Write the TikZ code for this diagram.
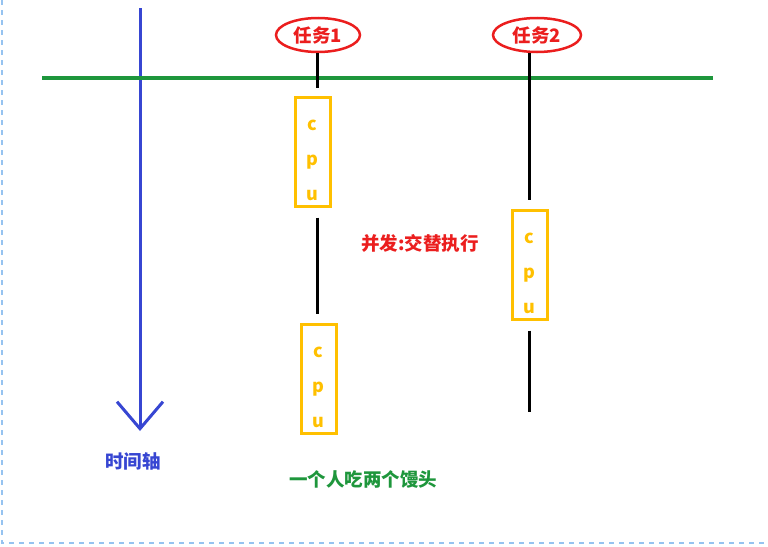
\documentclass[tikz,border=0pt]{standalone}
\usepackage{fontspec}
\newfontfamily\cjk{Noto Sans CJK SC}
\usetikzlibrary{shapes.geometric, arrows.meta}

\definecolor{axisblue}{RGB}{55,70,210}
\definecolor{linegreen}{RGB}{30,150,60}
\definecolor{taskred}{RGB}{235,30,30}
\definecolor{cpugold}{RGB}{255,192,0}
\definecolor{framblue}{RGB}{150,195,240}

\tikzset{
    task/.style={ellipse, draw=taskred, line width=2.5pt, minimum width=84pt, minimum height=34pt,
        inner sep=0pt, text=taskred, font=\cjk\bfseries\fontsize{18.5}{18.5}\selectfont},
    cpubox/.style={draw=cpugold, line width=3pt, minimum width=35pt, minimum height=109pt, inner sep=0pt},
    cputext/.style={text=cpugold, font=\cjk\bfseries\fontsize{18}{35}\selectfont, align=center, inner sep=0pt},
    run/.style={line width=3pt, black},
    note/.style={font=\cjk\bfseries\fontsize{18.5}{18.5}\selectfont}
}

\begin{document}
\begin{tikzpicture}[x=1pt, y=-1pt]
    \useasboundingbox (0,0) rectangle (768,546);

    % 1. 截图边框
    \draw[framblue, line width=1.2pt, dash pattern=on 5pt off 5pt] (2,0) -- (2,543) -- (768,543);

    % 2. 时间轴
    \coordinate (ttop) at (140,8);
    \coordinate (tend) at (140,431);
    \draw[axisblue, line width=3pt, -{Straight Barb[length=27pt, width=46pt, line width=3pt]}] (ttop) -- (tend);
    \node[note, text=axisblue] (tlabel) at (133,461) {时间轴};

    % 3. 绿色基准线
    \coordinate (gleft) at (42,78);
    \coordinate (gright) at (713,78);
    \draw[linegreen, line width=3.5pt] (gleft) -- (gright);

    % 4. 任务
    \node[task] (task1) at (318,35) {任务1};
    \node[task, minimum width=88pt] (task2) at (537,35) {任务2};

    % 5. cpu 时间片
    \node[cpubox] (cpuA) at (312.5,151.5) {};
    \node[cpubox] (cpuB) at (318.5,378.5) {};
    \node[cpubox] (cpuC) at (529.5,264.5) {};
    \foreach \b in {cpuA, cpuB, cpuC}
        \node[cputext] (\b text) at ([yshift=-9pt]\b.center) {c\\p\\u};

    % 6. 执行线
    \coordinate (t1x) at (317,0);
    \draw[run, shorten >=8pt] (t1x |- task1.south) -- (t1x |- cpuA.north);
    \draw[run, shorten <=10pt, shorten >=9pt] (t1x |- cpuA.south) -- (t1x |- cpuB.north);
    \draw[run, shorten >=9pt] (task2.south -| cpuC.north) -- (cpuC.north);
    \coordinate (end2) at (529.5,412);
    \draw[run, shorten <=10pt] (cpuC.south) -- (end2);

    % 7. 标注
    \node[note, text=taskred] (concur) at (420,243) {并发:交替执行};
    \node[note, text=linegreen] (eat) at (363,480) {一个人吃两个馒头};
\end{tikzpicture}
\end{document}
